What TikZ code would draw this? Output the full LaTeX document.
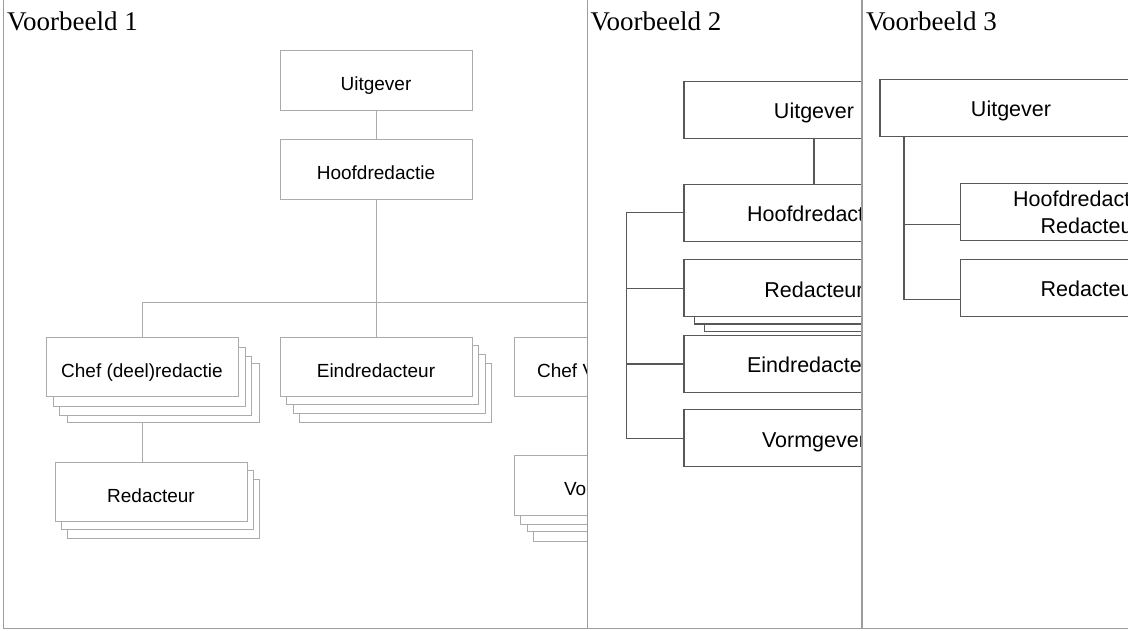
\documentclass[tikz,border=0pt]{standalone}
\usepackage{fontspec}
\setmainfont{Liberation Serif}
\newfontfamily\orgfont{Liberation Sans}
\usetikzlibrary{calc}
\definecolor{lightline}{HTML}{ABABAB}
\definecolor{darkline}{HTML}{585858}
\definecolor{frameline}{HTML}{9C9C9C}
\begin{document}
\begin{tikzpicture}[x=1pt,y=-1pt,
  box1/.style={draw=lightline, line width=0.9pt, fill=white, rectangle, inner sep=0pt,
    minimum width=192pt, minimum height=59.5pt, text height=20pt, text depth=0pt,
    font=\orgfont\fontsize{19}{22}\selectfont},
  link1/.style={draw=lightline, line width=0.9pt},
  box2/.style={draw=darkline, line width=1.3pt, fill=white, rectangle, inner sep=0pt,
    minimum width=260pt, minimum height=57pt, align=center, text height=17.5pt, text depth=0pt,
    font=\orgfont\fontsize{21.5}{26.5}\selectfont},
  twoline/.style={text height={}, text depth={}},
  link2/.style={draw=darkline, line width=1.3pt},
  paneltitle/.style={font=\fontsize{27}{30}\selectfont, anchor=base west, inner sep=0pt},
  frame/.style={draw=frameline, line width=1.4pt}]
\useasboundingbox (0,0) rectangle (1128,630);

% ---------------- Voorbeeld 1: classic tree ----------------
\begin{scope}
\clip (4,0) rectangle (587,628);
\node[paneltitle] (t1) at (7,30.7) {Voorbeeld 1};
\node[box1] (U1) at (376,80.5) {Uitgever};
\node[box1] (H1) at (376,169.5) {Hoofdredactie};
% Chef (deel)redactie, stacked
\node[box1] (C1c) at (163,393) {};
\node[box1] (C1b) at (155,386) {};
\node[box1] (C1a) at (149,377) {};
\node[box1] (C1) at (142,367) {Chef (deel)redactie};
% Eindredacteur, stacked
\node[box1] (E1c) at (395,393) {};
\node[box1] (E1b) at (389,384) {};
\node[box1] (E1a) at (382,375) {};
\node[box1] (E1) at (376,367) {Eindredacteur};
% Chef Vormgeving
\node[box1] (V1) at (610,367) {Chef Vormgeving};
% Redacteur, stacked
\node[box1] (R1b) at (163,509) {};
\node[box1] (R1a) at (157,500) {};
\node[box1] (R1) at (151,492) {Redacteur};
% Vormgever, stacked
\node[box1] (Vo1c) at (629,512) {};
\node[box1] (Vo1b) at (623,502) {};
\node[box1] (Vo1a) at (616,495) {};
\node[box1] (Vo1) at (610,485.5) {Vormgever};
% connectors
\coordinate (bus) at (0,302);
\draw[link1] (U1) -- (H1);
\draw[link1] (H1.south) -- (H1.south|-bus);
\draw[link1] (C1.north|-bus) -- (V1.north|-bus);
\draw[link1] (C1.north|-bus) -- (C1.north);
\draw[link1] (E1.north|-bus) -- (E1.north);
\draw[link1] (V1.north|-bus) -- (V1.north);
\draw[link1] (C1.south|-C1c.south) -- (C1.south|-R1.north);
\end{scope}

% ---------------- Voorbeeld 2: indented list ----------------
\begin{scope}
\clip (588,0) rectangle (862,628);
\node[paneltitle] (t2) at (590.5,30) {Voorbeeld 2};
\node[box2] (U2) at (814,110) {Uitgever};
\node[box2] (H2) at (814,212.7) {Hoofdredactie};
\node[box2] (R2b) at (834.5,302.8) {};
\node[box2] (R2a) at (824.5,295.5) {};
\node[box2] (R2) at (814,288.3) {Redacteur};
\node[box2] (E2) at (814,364) {Eindredacteur};
\node[box2] (Vm2) at (814,438.3) {Vormgever};
\coordinate (spine2) at (626.5,0);
\draw[link2] (U2) -- (H2);
\draw[link2] (H2.west) -- (spine2|-H2.west) -- (spine2|-Vm2.west) -- (Vm2.west);
\draw[link2] (R2.west) -- (spine2|-R2.west);
\draw[link2] (E2.west) -- (spine2|-E2.west);
\end{scope}

% ---------------- Voorbeeld 3: small editorial office ----------------
\begin{scope}
\clip (862.5,0) rectangle (1128,628);
\node[paneltitle] (t3) at (866,30) {Voorbeeld 3};
\node[box2, minimum width=262pt] (U3) at (1011,108) {Uitgever};
\node[box2, twoline] (H3) at (1090.2,212.3) {Hoofdredacteur/\\Redacteur};
\node[box2] (R3) at (1090.2,288) {Redacteur};
\coordinate (spine3) at (904,0);
\coordinate (h3in) at ([yshift=-12pt]H3.west);
\coordinate (r3in) at ([yshift=-11.3pt]R3.west);
\draw[link2] (spine3|-U3.south) -- (spine3|-r3in) -- (r3in);
\draw[link2] (spine3|-h3in) -- (h3in);
\end{scope}

% panel frames
\draw[frame] (3.5,0) -- (3.5,628.3) -- (1128,628.3);
\draw[frame] (587.5,0) -- (587.5,628.3);
\draw[frame] (862,0) -- (862,628.3);
\end{tikzpicture}
\end{document}
